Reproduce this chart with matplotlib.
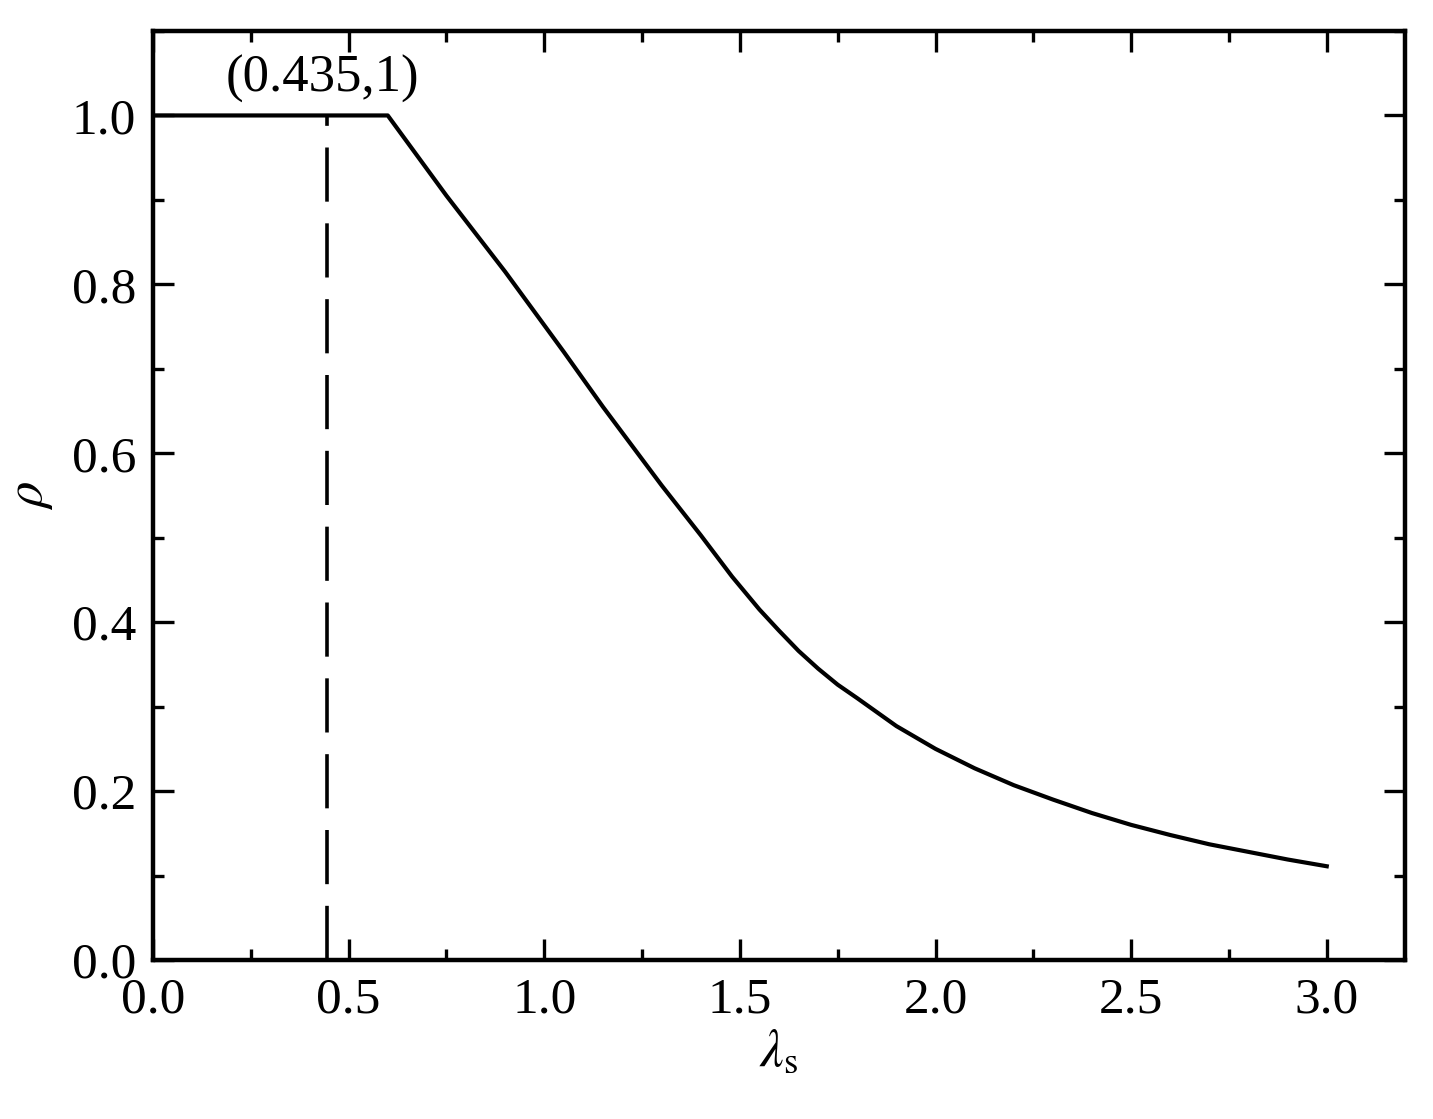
import matplotlib
matplotlib.use("Agg")
import matplotlib.pyplot as plt
from matplotlib.ticker import MultipleLocator

# values
lam = [0.0, 0.6, 0.75, 0.9, 1.05, 1.15, 1.3, 1.4, 1.48, 1.55, 1.6, 1.65, 1.7, 1.75,
       1.8, 1.9, 2.0, 2.1, 2.2, 2.3, 2.4, 2.5, 2.6, 2.7, 2.8, 2.9, 3.0]
rho = [1.0, 1.0, 0.905, 0.815, 0.72, 0.655, 0.562, 0.503, 0.454, 0.415, 0.39,
       0.366, 0.345, 0.326, 0.31, 0.277, 0.25, 0.227, 0.207, 0.19, 0.174, 0.16,
       0.148, 0.137, 0.128, 0.119, 0.111]

# dashed marker line and its label
mark_x = 0.445
mark_label = "(0.435,1)"

plt.rcParams["font.family"] = ["Liberation Serif", "DejaVu Serif"]
plt.rcParams["mathtext.fontset"] = "stix"

fig = plt.figure(figsize=(14.33, 11.19), dpi=100)
ax = fig.add_axes([153 / 1433, 1 - 960 / 1119, (1405 - 153) / 1433, (960 - 31) / 1119])

ax.plot(lam, rho, color="black", linewidth=3.0, solid_joinstyle="round")
ax.plot([mark_x, mark_x], [0, 1.0], color="black", linewidth=2.6,
        dashes=(15, 6))
ax.text(0.432, 1.043, mark_label, fontsize=38, ha="center", va="center")

ax.set_xlim(0, 3.2)
ax.set_ylim(0, 1.1)
ax.xaxis.set_major_locator(MultipleLocator(0.5))
ax.xaxis.set_minor_locator(MultipleLocator(0.25))
ax.yaxis.set_major_locator(MultipleLocator(0.2))
ax.yaxis.set_minor_locator(MultipleLocator(0.1))

ax.tick_params(which="both", direction="in", top=True, right=True, width=2.4)
ax.tick_params(which="major", length=15, labelsize=37, pad=12)
ax.tick_params(which="minor", length=8)
for s in ax.spines.values():
    s.set_linewidth(3.2)

ax.set_xlabel(r"$\lambda_{\rm s}$", fontsize=38, labelpad=4)
ax.set_ylabel(r"$\rho$", fontsize=38, labelpad=12)

fig.savefig("out.png", dpi=100)
